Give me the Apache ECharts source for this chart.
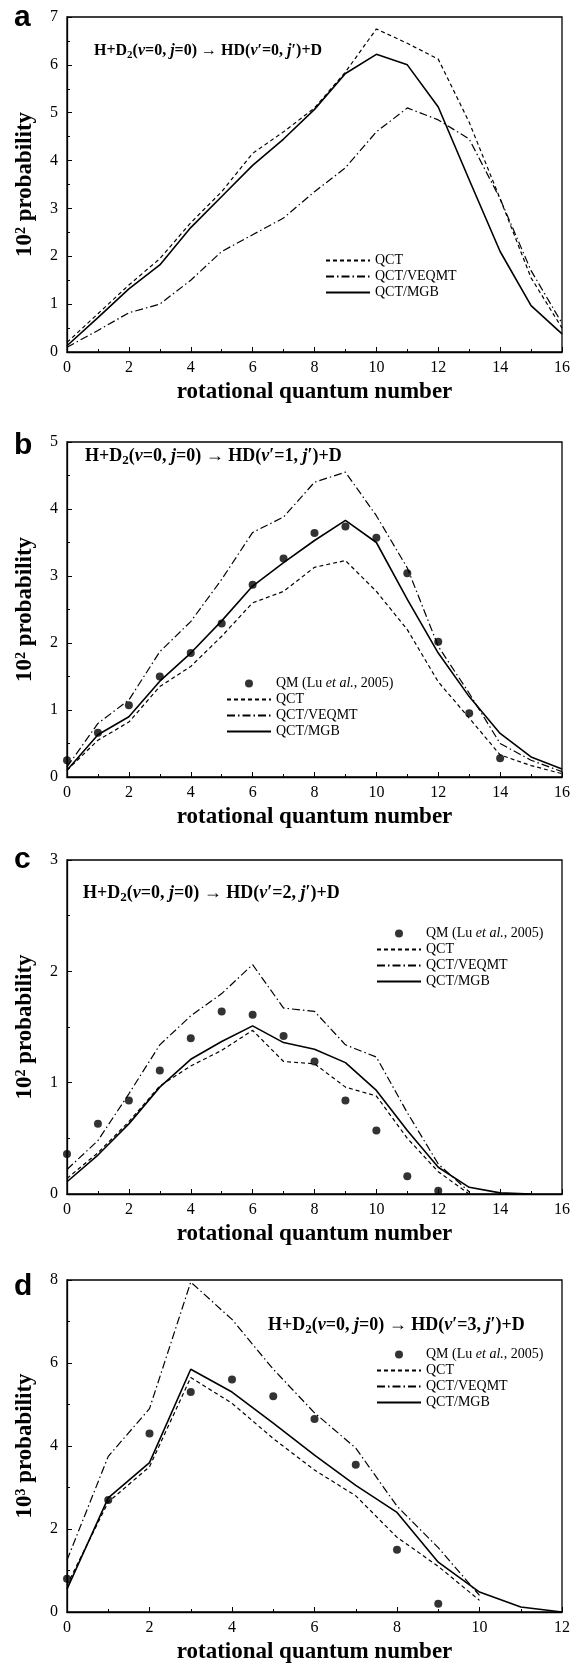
<!DOCTYPE html>
<html>
<head>
<meta charset="utf-8">
<script src="https://cdn.jsdelivr.net/npm/echarts@6/dist/echarts.min.js"></script>
<style>
html, body { margin: 0; padding: 0; background: #fff; }
#chart { width: 576px; height: 1665px; }
</style>
</head>
<body>
<div id="chart"></div>
<script>
// panel a: v'=0
const qctA = [0.2, 0.8, 1.4, 1.95, 2.7, 3.35, 4.15, 4.6, 5.1, 5.85, 6.75, 6.45, 6.12, 4.8, 3.2, 1.55, 0.5];
const veqmtA = [0.1, 0.45, 0.82, 1.0, 1.5, 2.1, 2.45, 2.8, 3.35, 3.85, 4.6, 5.1, 4.85, 4.45, 3.2, 1.7, 0.6];
const mgbA = [0.13, 0.72, 1.32, 1.82, 2.6, 3.25, 3.9, 4.45, 5.07, 5.82, 6.22, 6.0, 5.12, 3.6, 2.1, 0.97, 0.38];
// panel b: v'=1
const qmB = [0.25, 0.66, 1.07, 1.5, 1.85, 2.29, 2.87, 3.26, 3.64, 3.74, 3.57, 3.04, 2.02, 0.95, 0.28];
const qctB = [0.1, 0.55, 0.82, 1.35, 1.65, 2.1, 2.6, 2.77, 3.13, 3.23, 2.77, 2.2, 1.42, 0.88, 0.33, 0.17, 0.05];
const veqmtB = [0.15, 0.8, 1.15, 1.87, 2.32, 2.95, 3.65, 3.88, 4.4, 4.55, 3.9, 3.12, 1.95, 1.25, 0.5, 0.25, 0.08];
const mgbB = [0.1, 0.63, 0.9, 1.43, 1.85, 2.33, 2.85, 3.2, 3.53, 3.83, 3.5, 2.65, 1.85, 1.2, 0.65, 0.3, 0.12];
// panel c: v'=2
const qmC = [0.36, 0.63, 0.84, 1.11, 1.4, 1.64, 1.61, 1.42, 1.19, 0.84, 0.57, 0.16, 0.03];
const qctC = [0.14, 0.37, 0.65, 0.97, 1.15, 1.29, 1.47, 1.19, 1.17, 0.96, 0.88, 0.5, 0.2, 0.0];
const veqmtC = [0.22, 0.48, 0.9, 1.34, 1.6, 1.8, 2.06, 1.67, 1.64, 1.34, 1.23, 0.73, 0.27, 0.02];
const mgbC = [0.11, 0.35, 0.63, 0.96, 1.21, 1.37, 1.51, 1.36, 1.3, 1.18, 0.93, 0.57, 0.24, 0.06, 0.01, 0.0];
// panel d: v'=3
const qmD = [0.8, 2.7, 4.3, 5.3, 5.6, 5.2, 4.65, 3.55, 1.5, 0.2];
const qctD = [0.65, 2.65, 3.5, 5.65, 5.03, 4.18, 3.42, 2.8, 1.8, 1.1, 0.28];
const veqmtD = [1.25, 3.75, 4.9, 7.95, 7.05, 5.85, 4.8, 3.95, 2.55, 1.55, 0.4];
const mgbD = [0.55, 2.75, 3.6, 5.85, 5.3, 4.55, 3.78, 3.05, 2.4, 1.2, 0.48, 0.12, 0.0];

const panelLetters = ['a', 'b', 'c', 'd'];
const vPrime = ['0', '1', '2', '3'];
const yMax = [7, 5, 3, 8];
const yStep = [1, 1, 1, 2];
const xMax = [16, 16, 16, 12];
const yPower = ['2', '2', '2', '3'];

const QM = 'QM (Lu et al., 2005)';
const QCT = 'QCT';
const VEQMT = 'QCT/VEQMT';
const MGB = 'QCT/MGB';

const serif = '"Liberation Serif", "DejaVu Serif", serif';
const gridTops = [17, 442, 860, 1280];
const gridHeights = [335, 335, 334, 336];
const letterTops = [3, 431, 845, 1272];
const reactionPos = [[94, 41], [85, 445], [83, 882], [268, 1314]];
const reactionSize = [16, 18, 18, 18];
const legendPos = [[325, 253], [226, 676], [376, 926], [376, 1347]];

const panels = [
  { qm: null, qct: qctA, veqmt: veqmtA, mgb: mgbA },
  { qm: qmB, qct: qctB, veqmt: veqmtB, mgb: mgbB },
  { qm: qmC, qct: qctC, veqmt: veqmtC, mgb: mgbC },
  { qm: qmD, qct: qctD, veqmt: veqmtD, mgb: mgbD }
];

const toPairs = arr => arr.map((v, j) => [j, v]);
// line entries in the legend: hide the default marker, keep the line
const lineItem = name => ({ name: name, itemStyle: { opacity: 0 } });

const grid = [], xAxis = [], yAxis = [], series = [], title = [], legend = [];

panels.forEach((p, i) => {
  grid.push({
    left: 67, right: 14, top: gridTops[i], height: gridHeights[i],
    show: true, borderColor: '#000', borderWidth: 1.3, backgroundColor: 'transparent'
  });
  xAxis.push({
    type: 'value', gridIndex: i, min: 0, max: xMax[i], interval: 2,
    name: 'rotational quantum number', nameLocation: 'middle', nameGap: 29,
    nameTextStyle: { fontFamily: serif, fontWeight: 'bold', fontSize: 23, color: '#000' },
    axisLine: { show: true, lineStyle: { color: '#000', width: 1.3 } },
    axisTick: { show: true, inside: true, length: 5, lineStyle: { color: '#000' } },
    minorTick: { show: true, splitNumber: 2, length: 3, lineStyle: { color: '#000' } },
    axisLabel: { fontFamily: serif, fontSize: 16, color: '#000', margin: 8 },
    splitLine: { show: false }
  });
  yAxis.push({
    type: 'value', gridIndex: i, min: 0, max: yMax[i], interval: yStep[i],
    name: '10{sup|' + yPower[i] + '} probability', nameLocation: 'middle', nameGap: 30,
    nameTextStyle: {
      fontFamily: serif, fontWeight: 'bold', fontSize: 23, color: '#000',
      rich: { sup: { fontFamily: serif, fontWeight: 'bold', fontSize: 14, verticalAlign: 'top', lineHeight: 23, color: '#000' } }
    },
    axisLine: { show: true, lineStyle: { color: '#000', width: 1.3 } },
    axisTick: { show: true, inside: true, length: 5, lineStyle: { color: '#000' } },
    minorTick: { show: true, splitNumber: 2, length: 3, lineStyle: { color: '#000' } },
    axisLabel: { fontFamily: serif, fontSize: 16, color: '#000', margin: 9 },
    splitLine: { show: false }
  });

  const lineBase = {
    type: 'line', xAxisIndex: i, yAxisIndex: i, symbol: 'none',
    itemStyle: { color: '#000' }, silent: true, animation: false
  };
  if (p.qm) {
    series.push({
      type: 'scatter', name: QM, xAxisIndex: i, yAxisIndex: i, data: toPairs(p.qm),
      symbol: 'circle', symbolSize: 8, itemStyle: { color: '#000' }, silent: true, animation: false
    });
  }
  series.push(Object.assign({}, lineBase, { name: QCT, data: toPairs(p.qct), lineStyle: { color: '#000', width: 1.2, type: [4, 3] } }));
  series.push(Object.assign({}, lineBase, { name: VEQMT, data: toPairs(p.veqmt), lineStyle: { color: '#000', width: 1.2, type: [8, 3, 1.5, 3] } }));
  series.push(Object.assign({}, lineBase, { name: MGB, data: toPairs(p.mgb), lineStyle: { color: '#000', width: 1.6, type: 'solid' } }));

  title.push({
    text: panelLetters[i], left: 14, top: letterTops[i], padding: 0,
    textStyle: { fontFamily: '"Liberation Sans", Arial, sans-serif', fontWeight: 'bold', fontSize: 30, color: '#000' }
  });
  const fs = reactionSize[i];
  const sty = { fontFamily: serif, fontWeight: 'bold', fontSize: fs, color: '#000', lineHeight: fs + 4 };
  title.push({
    text: 'H+D{sub|2}({i|v}=0, {i|j}=0) \u2192 HD({i|v}\u2032=' + vPrime[i] + ', {i|j}\u2032)+D',
    left: reactionPos[i][0], top: reactionPos[i][1], padding: 0,
    textStyle: Object.assign({}, sty, {
      rich: {
        sub: Object.assign({}, sty, { fontSize: fs - 5, lineHeight: fs - 5, verticalAlign: 'bottom' }),
        i: Object.assign({}, sty, { fontStyle: 'italic' })
      }
    })
  });

  const lines = [lineItem(QCT), lineItem(VEQMT), lineItem(MGB)];
  legend.push({
    orient: 'vertical', left: legendPos[i][0], top: legendPos[i][1], padding: 0,
    itemWidth: 44, itemHeight: 8, itemGap: 1, selectedMode: false,
    data: p.qm ? [{ name: QM }].concat(lines) : lines,
    formatter: name => name.replace('et al.', '{i|et al.}'),
    textStyle: {
      fontFamily: serif, fontSize: 14, color: '#000', lineHeight: 15,
      rich: { i: { fontFamily: serif, fontSize: 14, fontStyle: 'italic', color: '#000', lineHeight: 15 } }
    }
  });
});

const chart = echarts.init(document.getElementById('chart'));
chart.setOption({
  backgroundColor: '#fff',
  animation: false,
  title: title,
  legend: legend,
  grid: grid,
  xAxis: xAxis,
  yAxis: yAxis,
  series: series
});
</script>
</body>
</html>
